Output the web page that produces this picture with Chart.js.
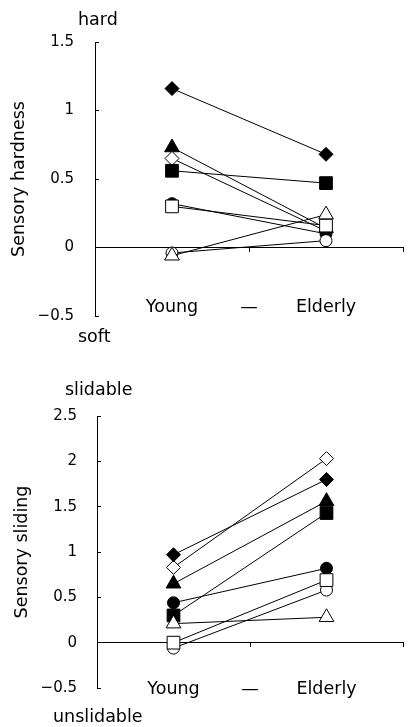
<!DOCTYPE html>
<html>
<head>
<meta charset="utf-8">
<script src="https://cdn.jsdelivr.net/npm/chart.js@4"></script>
<style>
html, body { margin: 0; padding: 0; background: #fff; }
body { width: 413px; height: 727px; position: relative; overflow: hidden; }
canvas { position: absolute; left: 0; }
.lbl { position: absolute; font-family: 'DejaVu Sans', sans-serif; font-size: 17.5px; line-height: 20px; color: #000; white-space: nowrap; }
</style>
</head>
<body>
<canvas id="c1" width="413" height="340" style="top:0px"></canvas>
<canvas id="c2" width="413" height="387" style="top:340px"></canvas>
<div class="lbl" style="left:78px; top:9px">hard</div>
<div class="lbl" style="left:78px; top:326px">soft</div>
<div class="lbl" style="left:65px; top:379px">slidable</div>
<div class="lbl" style="left:53px; top:706px">unslidable</div>
<script>
// ---------------- data ----------------
const groups = ['Young', 'Elderly'];
const xTickLabels = ['Young', '\u2014', 'Elderly'];

// series order: filled diamond, filled triangle, open diamond, filled square,
//               filled circle, open square, open circle, open triangle
const seriesNames = ['filled diamond', 'filled triangle', 'open diamond', 'filled square',
                     'filled circle', 'open square', 'open circle', 'open triangle'];

const hardYoung   = [1.16, 0.73, 0.65, 0.56, 0.32, 0.30, -0.04, -0.06];
const hardElderly = [0.68, 0.14, 0.12, 0.47, 0.10, 0.16, 0.05, 0.24];

const slideYoung   = [0.97, 0.65, 0.83, 0.30, 0.44, 0.00, -0.06, 0.21];
const slideElderly = [1.80, 1.56, 2.03, 1.43, 0.82, 0.69, 0.58, 0.28];

const hardTicks  = [-0.5, 0, 0.5, 1, 1.5];
const slideTicks = [-0.5, 0, 0.5, 1, 1.5, 2, 2.5];

// ---------------- styles ----------------
const markers = [
  { style: 'rectRot',  fill: '#000', r: 7,   z: 6 },
  { style: 'triangle', fill: '#000', r: 8.5, z: 8 },
  { style: 'rectRot',  fill: '#fff', r: 7,   z: 7 },
  { style: 'rect',     fill: '#000', r: 9,   z: 5 },
  { style: 'circle',   fill: '#000', r: 6,   z: 4 },
  { style: 'rect',     fill: '#fff', r: 9,   z: 2 },
  { style: 'circle',   fill: '#fff', r: 6,   z: 3 },
  { style: 'triangle', fill: '#fff', r: 8.5, z: 1 }
];
const FONT = "'DejaVu Sans'";

function fmt(v) {
  const s = String(Math.abs(v));
  return v < 0 ? '\u2212' + s : s;
}

function makeChart(id, young, elderly, ticksArr, title, opts) {
  const datasets = seriesNames.map((name, i) => ({
    label: name,
    data: [{ x: 0, y: young[i] }, { x: 1, y: elderly[i] }],
    borderColor: '#000',
    borderWidth: 1,
    pointStyle: markers[i].style,
    pointRadius: markers[i].r,
    pointBackgroundColor: markers[i].fill,
    pointBorderColor: '#000',
    pointBorderWidth: 1,
    fill: false,
    order: markers[i].z
  }));
  return new Chart(document.getElementById(id), {
    type: 'line',
    data: { datasets },
    options: {
      responsive: false,
      animation: false,
      layout: { padding: opts.padding },
      plugins: { legend: { display: false }, tooltip: { enabled: false } },
      scales: {
        y: {
          type: 'linear',
          position: 'left',
          min: ticksArr[0],
          max: ticksArr[ticksArr.length - 1],
          afterBuildTicks: s => { s.ticks = ticksArr.map(v => ({ value: v })); },
          afterFit: s => { s.width = opts.axisX; s.paddingTop = 0; s.paddingBottom = 0; },
          border: { display: true, color: '#000', width: 1 },
          grid: { drawOnChartArea: false, drawTicks: true, tickLength: -4, color: '#000' },
          ticks: { padding: opts.yPad, color: '#000', font: { family: FONT, size: 15 }, callback: v => fmt(v) },
          title: { display: true, text: title, color: '#000', font: { family: FONT, size: 17.5 }, padding: { top: opts.titlePad, bottom: 0 } }
        },
        x: {
          type: 'linear',
          min: -0.5,
          max: groups.length - 0.5,
          position: { y: ticksArr[0] },
          border: { display: false },
          grid: { display: false, drawTicks: false },
          afterBuildTicks: s => { s.ticks = xTickLabels.map((l, i) => ({ value: i / 2 })); },
          ticks: {
            padding: opts.xPad, color: '#000', autoSkip: false, maxRotation: 0,
            font: { family: FONT, size: 17.5 },
            callback: v => xTickLabels[Math.round(v * 2)]
          }
        },
        xz: {
          type: 'linear',
          axis: 'x',
          min: -0.5,
          max: groups.length - 0.5,
          position: { y: 0 },
          border: { display: true, color: '#000', width: 1 },
          grid: { drawOnChartArea: false, drawTicks: true, tickLength: 4, color: '#000' },
          afterBuildTicks: s => { s.ticks = groups.map((g, i) => ({ value: i + 0.5 })); },
          ticks: { display: false }
        }
      }
    }
  });
}

makeChart('c1', hardYoung, hardElderly, hardTicks, 'Sensory hardness',
  { padding: { left: 0, right: 1, top: 42, bottom: 24 }, axisX: 95, yPad: 25, titlePad: 9, xPad: -19.5 });
makeChart('c2', slideYoung, slideElderly, slideTicks, 'Sensory sliding',
  { padding: { left: 0, right: 1, top: 76, bottom: 39 }, axisX: 97, yPad: 24, titlePad: 12, xPad: -9 });
</script>
</body>
</html>
